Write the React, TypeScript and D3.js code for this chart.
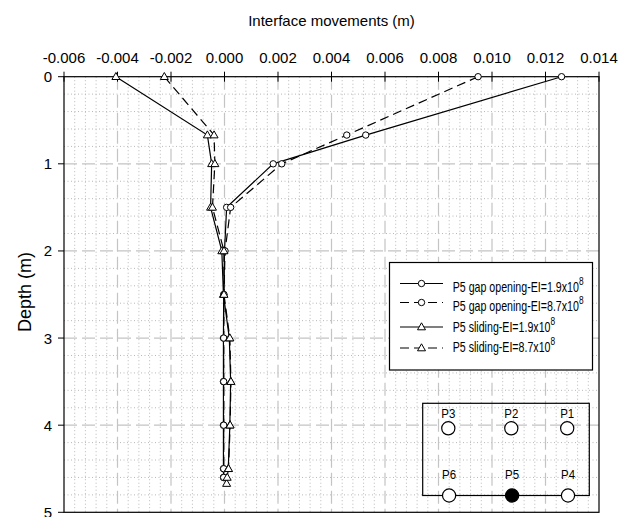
import React from 'react';
import * as d3 from 'd3';

// depth (m) of each reading
const depthGap = [0, 0.67, 1, 1.5, 2, 2.5, 3, 3.5, 4, 4.5, 4.6];
const depthSlide19 = [0, 0.67, 1, 1.5, 2, 2.5, 3, 3.5, 4, 4.5, 4.67];
const depthSlide87 = [0, 0.67, 1, 1.5, 2, 2.5, 3, 3.5, 4, 4.5, 4.6];

// interface movements (m)
const gapEI19 = [0.0126, 0.00528, 0.00182, 0.00008, 0.0, -0.00003, -0.00004, -0.00004, -0.00004, -0.00004, -0.00004];
const gapEI87 = [0.00948, 0.00457, 0.00214, 0.00023, 0.00002, -0.00002, -0.00003, -0.00003, -0.00003, -0.00003, -0.00003];
const slideEI19 = [-0.00406, -0.00064, -0.00048, -0.00052, -0.0001, -0.00004, 0.00018, 0.00023, 0.0002, 0.00014, 0.00008];
const slideEI87 = [-0.00225, -0.00039, -0.00036, -0.00045, -0.00002, -0.00002, 0.0002, 0.00024, 0.00021, 0.00015, 0.0001];

const xTicks = [-0.006, -0.004, -0.002, 0, 0.002, 0.004, 0.006, 0.008, 0.01, 0.012, 0.014];
const xTickLabels = ['-0.006', '-0.004', '-0.002', '0.000', '0.002', '0.004', '0.006', '0.008', '0.010', '0.012', '0.014'];
const yTicks = [0, 1, 2, 3, 4, 5];

const legendLabels = [
  'P5 gap opening-EI=1.9x10',
  'P5 gap opening-EI=8.7x10',
  'P5 sliding-EI=1.9x10',
  'P5 sliding-EI=8.7x10',
];
const pileTop = ['P3', 'P2', 'P1'];
const pileBottom = ['P6', 'P5', 'P4'];

const FONT = 'Liberation Sans, Arial, sans-serif';
const W = 626;
const H = 517;

type Series = { xs: number[]; ds: number[]; dashed: boolean; marker: 'circle' | 'triangle' };

const series: Series[] = [
  { xs: gapEI19, ds: depthGap, dashed: false, marker: 'circle' },
  { xs: gapEI87, ds: depthGap, dashed: true, marker: 'circle' },
  { xs: slideEI19, ds: depthSlide19, dashed: false, marker: 'triangle' },
  { xs: slideEI87, ds: depthSlide87, dashed: true, marker: 'triangle' },
];

const Marker = ({ kind, cx, cy }: { kind: string; cx: number; cy: number }) =>
  kind === 'circle' ? (
    <circle cx={cx} cy={cy} r={3.2} fill="#fff" stroke="#000" strokeWidth={1} />
  ) : (
    <path d={`M${cx},${cy - 4.2}L${cx + 4},${cy + 2.8}L${cx - 4},${cy + 2.8}Z`} fill="#fff" stroke="#000" strokeWidth={1} />
  );

export default function App() {
  const x = d3.scaleLinear().domain([-0.006, 0.014]).range([64, 599]);
  const y = d3.scaleLinear().domain([0, 5]).range([76.7, 512.3]);

  const minorX = d3.range(0, 51).map(i => -0.006 + i * 0.0004).filter((_, i) => i % 5 !== 0);
  const minorY = d3.range(0, 26).map(i => i * 0.2).filter((_, i) => i % 5 !== 0);

  const line = d3.line<[number, number]>().x(d => x(d[0])).y(d => y(d[1]));

  const [x0, x1] = x.range();
  const [y0, y1] = y.range();

  // legend layout
  const lg = { left: 389.5, top: 262.5, right: 592.5, bottom: 370 };
  const lgSym = [283.5, 302.5, 327, 348];
  const lgText = [291.5, 311, 331.5, 351.5];

  // pile layout inset
  const pb = { left: 422.7, top: 403.3, right: 589.3, bottom: 495.5 };
  const pileX = [448.3, 511.3, 567.2];

  return (
    <svg width={W} height={H} style={{ position: 'absolute', left: 0, top: 0, display: 'block', background: '#fff' }} fontFamily={FONT}>
      {/* minor grid */}
      <g stroke="#b8b8b8" strokeWidth={1} strokeDasharray="1,2.5">
        {minorX.map((v, i) => (
          <line key={'mx' + i} x1={x(v)} x2={x(v)} y1={y0} y2={y1} />
        ))}
        {minorY.map((v, i) => (
          <line key={'my' + i} x1={x0} x2={x1} y1={y(v)} y2={y(v)} />
        ))}
      </g>
      {/* major grid */}
      <g stroke="#c4c4c4" strokeWidth={1.2} strokeDasharray="13,5">
        {xTicks.slice(1, -1).map((v, i) => (
          <line key={'Mx' + i} x1={x(v)} x2={x(v)} y1={y0} y2={y1} />
        ))}
        {yTicks.slice(1, -1).map((v, i) => (
          <line key={'My' + i} x1={x0} x2={x1} y1={y(v)} y2={y(v)} />
        ))}
      </g>

      {/* plot frame */}
      <rect x={x0} y={y0} width={x1 - x0} height={y1 - y0} fill="none" stroke="#000" strokeWidth={1.2} />

      {/* top axis */}
      {xTicks.map((v, i) => (
        <g key={'xt' + i}>
          <line x1={x(v)} x2={x(v)} y1={y0 - 5} y2={y0 + 5} stroke="#000" strokeWidth={1} />
          <text x={x(v)} y={63} textAnchor="middle" fontSize={15}>
            {xTickLabels[i]}
          </text>
        </g>
      ))}
      <text x={(x0 + x1) / 2} y={26} textAnchor="middle" fontSize={15}>
        Interface movements (m)
      </text>

      {/* left axis */}
      {yTicks.map(v => (
        <g key={'yt' + v}>
          <line x1={x0 - 6} x2={x0} y1={y(v)} y2={y(v)} stroke="#000" strokeWidth={1} />
          <text x={52} y={y(v)} textAnchor="end" dominantBaseline="central" fontSize={15}>
            {v}
          </text>
        </g>
      ))}
      <text transform={`translate(25,292) rotate(-90)`} textAnchor="middle" dominantBaseline="central" fontSize={18}>
        Depth (m)
      </text>

      {/* series */}
      {series.map((s, i) => (
        <path
          key={'l' + i}
          d={line(s.xs.map((v, j) => [v, s.ds[j]] as [number, number])) || ''}
          fill="none"
          stroke="#000"
          strokeWidth={1.2}
          strokeDasharray={s.dashed ? '9,5' : undefined}
        />
      ))}
      {series.map((s, i) => (
        <g key={'m' + i}>
          {s.xs.map((v, j) => (
            <Marker key={j} kind={s.marker} cx={x(v)} cy={y(s.ds[j])} />
          ))}
        </g>
      ))}

      {/* legend */}
      <rect x={lg.left} y={lg.top} width={lg.right - lg.left} height={lg.bottom - lg.top} fill="#fff" stroke="#000" strokeWidth={1.2} />
      {series.map((s, i) => (
        <g key={'lg' + i}>
          <line x1={400} x2={443} y1={lgSym[i]} y2={lgSym[i]} stroke="#000" strokeWidth={1.2} strokeDasharray={s.dashed ? '9,5' : undefined} />
          <Marker kind={s.marker} cx={421.5} cy={lgSym[i]} />
          <text transform={`translate(452.7,${lgText[i]}) scale(0.76,1)`} fontSize={14}>
            {legendLabels[i]}
            <tspan fontSize={11} dy={-7}>8</tspan>
          </text>
        </g>
      ))}

      {/* pile layout */}
      <rect x={pb.left} y={pb.top} width={pb.right - pb.left} height={pb.bottom - pb.top} fill="none" stroke="#000" strokeWidth={1.2} />
      {pileTop.map((p, i) => (
        <g key={p}>
          <circle cx={pileX[i]} cy={428.3} r={6.6} fill="#fff" stroke="#000" strokeWidth={1.2} />
          <text transform={`translate(${pileX[i]},418) scale(0.85,1)`} textAnchor="middle" fontSize={13.5}>
            {p}
          </text>
        </g>
      ))}
      {pileBottom.map((p, i) => (
        <g key={p}>
          <circle cx={pileX[i] + 0.8} cy={495.5} r={6.6} fill={p === 'P5' ? '#000' : '#fff'} stroke="#000" strokeWidth={1.2} />
          <text transform={`translate(${pileX[i] + 0.8},479.3) scale(0.85,1)`} textAnchor="middle" fontSize={13.5}>
            {p}
          </text>
        </g>
      ))}
    </svg>
  );
}
